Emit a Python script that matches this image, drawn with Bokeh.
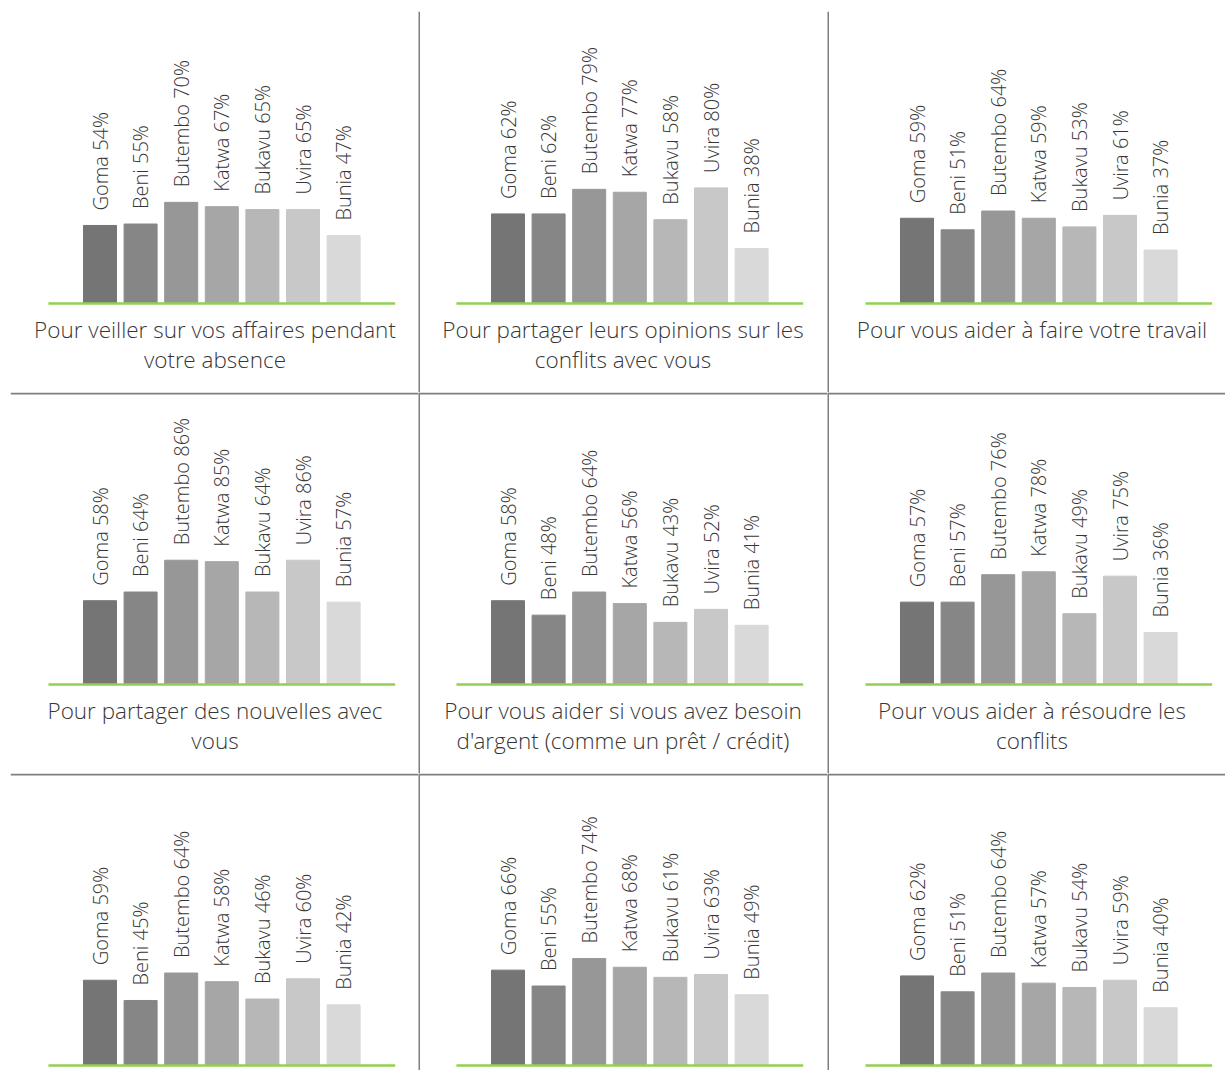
import math

from bokeh.core.properties import value
from bokeh.embed import file_html
from bokeh.layouts import gridplot
from bokeh.models import ColumnDataSource, Range1d, Span
from bokeh.plotting import figure
from bokeh.resources import INLINE

# ---- data ---------------------------------------------------------------
cities = ["Goma", "Beni", "Butembo", "Katwa", "Bukavu", "Uvira", "Bunia"]
bar_colors = ["#757575", "#868686", "#979797", "#a6a6a6",
              "#b7b7b7", "#c8c8c8", "#d9d9d9"]

veiller_affaires = [54, 55, 70, 67, 65, 65, 47]
partager_opinions = [62, 62, 79, 77, 58, 80, 38]
aider_travail = [59, 51, 64, 59, 53, 61, 37]
partager_nouvelles = [58, 64, 86, 85, 64, 86, 57]
aider_argent = [58, 48, 64, 56, 43, 52, 41]
resoudre_conflits = [57, 57, 76, 78, 49, 75, 36]
question_7 = [59, 45, 64, 58, 46, 60, 42]
question_8 = [66, 55, 74, 68, 61, 63, 49]
question_9 = [62, 51, 64, 57, 54, 59, 40]

panel_values = [
    veiller_affaires, partager_opinions, aider_travail,
    partager_nouvelles, aider_argent, resoudre_conflits,
    question_7, question_8, question_9,
]
panel_titles = [
    "Pour veiller sur vos affaires pendant\nvotre absence",
    "Pour partager leurs opinions sur les\nconflits avec vous",
    "Pour vous aider à faire votre travail",
    "Pour partager des nouvelles avec\nvous",
    "Pour vous aider si vous avez besoin\nd'argent (comme un prêt / crédit)",
    "Pour vous aider à résoudre les\nconflits",
    "", "", "",
]

# ---- layout / style -----------------------------------------------------
COL_W = [418, 409, 398]
ROW_H = [392, 381, 297]
LEFT_PAD = 10
TOP_PAD = 11
CELL_W = 409

PX_PER_CAT = 40.6      # horizontal pixels per category slot
PX_PER_PCT = 1.445     # vertical pixels per percentage point
FIRST_BAR_PX = 89.5    # first bar centre, from cell left
BASE_PX = 292          # baseline, from cell top
BAR_W = 0.813
LINE_EXT = 1.27        # baseline overhang beyond the outer bar centres
LABEL_GAP_PX = 15
TITLE_FIRST_PX = 26    # first title baseline below the bar baseline
TITLE_STEP_PX = 30

FONT = value("Open Sans Light, Open Sans")
TEXT_COLOR = "#363636"
GREEN = "#92d050"
RULE = "#7f7f7f"


def make_panel(k, r, c):
    fw = COL_W[c] - (LEFT_PAD if c == 0 else 0)
    fh = ROW_H[r] - (TOP_PAD if r == 0 else 0)
    x0 = -FIRST_BAR_PX / PX_PER_CAT
    y1 = BASE_PX / PX_PER_PCT
    p = figure(
        width=COL_W[c], height=ROW_H[r],
        x_range=Range1d(x0, x0 + fw / PX_PER_CAT),
        y_range=Range1d(y1 - fh / PX_PER_PCT, y1),
        x_axis_location=None, y_axis_location=None,
        toolbar_location=None, output_backend="svg", title=None,
        min_border=0,
        min_border_left=LEFT_PAD if c == 0 else 0,
        min_border_top=TOP_PAD if r == 0 else 0,
        outline_line_color=None,
        background_fill_color="white", border_fill_color="white",
    )
    p.grid.visible = False

    vals = panel_values[k]
    idx = list(range(len(cities)))
    src = ColumnDataSource(dict(
        x=idx, top=vals, color=bar_colors,
        label=[f"{city} {v}%" for city, v in zip(cities, vals)],
        ly=[v + LABEL_GAP_PX / PX_PER_PCT for v in vals],
    ))
    p.vbar(x="x", top="top", bottom=0, width=BAR_W, color="color", source=src)
    p.segment(x0=[-LINE_EXT], y0=[0], x1=[len(cities) - 1 + LINE_EXT], y1=[0],
              line_color=GREEN, line_width=2.5)
    p.text(x="x", y="ly", text="label", source=src, angle=math.pi / 2,
           text_align="left", text_baseline="middle",
           text_font=FONT, text_font_size="20px", text_color=TEXT_COLOR)

    title_lines = [t for t in panel_titles[k].split("\n") if t]
    if title_lines:
        tx = (CELL_W / 2 - FIRST_BAR_PX) / PX_PER_CAT
        ty = [-(TITLE_FIRST_PX + TITLE_STEP_PX * j) / PX_PER_PCT
              for j in range(len(title_lines))]
        p.text(x=[tx] * len(title_lines), y=ty, text=title_lines,
               text_align="center", text_baseline="alphabetic",
               text_font=FONT, text_font_size="22.5px", text_color=TEXT_COLOR)

    # rules between cells: drawn just inside the right/lower neighbour
    one_px_x = 1 / PX_PER_CAT
    one_px_y = 1 / PX_PER_PCT
    if c > 0:
        p.add_layout(Span(location=p.x_range.start + 0.5 * one_px_x,
                          dimension="height", line_color=RULE, line_width=2))
    if r > 0:
        p.add_layout(Span(location=p.y_range.end - 1.0 * one_px_y,
                          dimension="width", line_color=RULE, line_width=2))
    return p


rows = []
for r in range(3):
    rows.append([make_panel(3 * r + c, r, c) for c in range(3)])

grid = gridplot(rows, toolbar_location=None)

open("out.html", "w").write(file_html(grid, INLINE))
